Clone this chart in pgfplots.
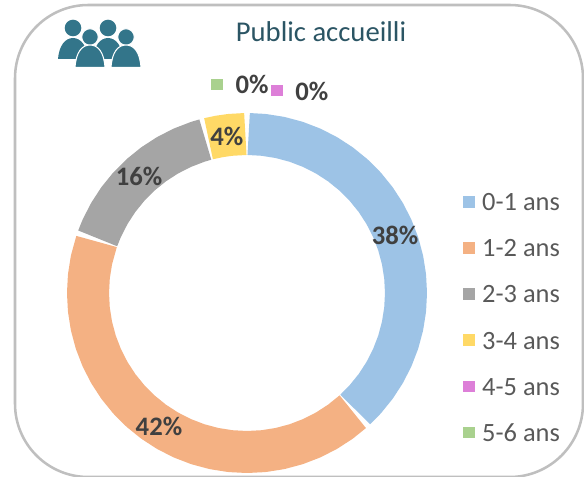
\documentclass[border=0pt]{standalone}
\usepackage{pgfplots}
\pgfplotsset{compat=1.18}
\usepgfplotslibrary{polar}
\usepackage{fontspec}
\setmainfont{Carlito}
\definecolor{cA}{HTML}{9DC3E6}
\definecolor{cB}{HTML}{F4B183}
\definecolor{cC}{HTML}{A5A5A5}
\definecolor{cD}{HTML}{FFD966}
\definecolor{cE}{HTML}{DD7FD8}
\definecolor{cF}{HTML}{A9D18E}
\definecolor{teal1}{HTML}{33758A}
\definecolor{ttl}{HTML}{2B5564}
\definecolor{lab}{HTML}{404040}
\definecolor{leg}{HTML}{595959}
\pgfplotsset{
  ring/.style={no marks, line width=31.5pt, line cap=butt, line join=round, forget plot},
  sq/.style={legend image code/.code={\fill[##1] (-4pt,-4pt) rectangle (4pt,4pt);}},
}
\tikzset{datalab/.style={font=\fontsize{20}{22}\selectfont\bfseries, text=lab, inner sep=0pt}}
\begin{document}
\begin{tikzpicture}
\begin{scope}[x=0.75pt,y=-0.75pt]
\path[use as bounding box] (0,0) rectangle (584,477);
\begin{scope}
\clip (0,0) rectangle (584,477);
\draw[line width=1.9pt, color=black!25, rounded corners=55pt] (15,5) rectangle (583,477);
\end{scope}
% icon
\fill[teal1] (73,28) circle[radius=8.3];
\fill[teal1] (108,28) circle[radius=8.3];
\fill[teal1] (58,59) .. controls (59,46) and (65,38) .. (73,38) .. controls (81,38) and (87,46) .. (88,59) -- cycle;
\fill[teal1] (93,59) .. controls (94,46) and (100,38) .. (108,38) .. controls (116,38) and (122,46) .. (123,59) -- cycle;
\filldraw[teal1,draw=white,line width=0.8pt] (90,37) circle[radius=8.3];
\filldraw[teal1,draw=white,line width=0.8pt] (126,37) circle[radius=8.3];
\filldraw[teal1,draw=white,line width=0.8pt] (75,67.5) .. controls (76,52) and (82,45) .. (90,45) .. controls (98,45) and (104,52) .. (105,67.5) -- cycle;
\filldraw[teal1,draw=white,line width=0.8pt] (111,67.5) .. controls (112,52) and (118,45) .. (126,45) .. controls (134,45) and (140,52) .. (141,67.5) -- cycle;
\node[text=ttl,font=\fontsize{21.5}{24}\selectfont] at (321,32) {Public accueilli};
\end{scope}
\begin{polaraxis}[
  at={(185.25pt,-219.75pt)}, anchor=center,
  scale only axis, width=270pt, height=270pt,
  xmin=0, xmax=360, ymin=0, ymax=180,
  hide axis, clip=false,
  legend style={draw=none, fill=none, at={(axis description cs:1.1,0.779)}, anchor=north west,
    inner sep=0pt, outer sep=0pt, font=\fontsize{19.8}{22}\selectfont, text=leg,
    row sep=21pt, column sep=6pt, nodes={inner sep=0pt, text height=13.6pt, text depth=0pt}},
  legend cell align=left,
]
\addplot[ring, cA] coordinates {(89.4,159)(84,159)(78,159)(72,159)(66,159)(60,159)(54,159)(48,159)(42,159)(36,159)(30,159)(24,159)(18,159)(12,159)(6,159)(0,159)(-6,159)(-12,159)(-18,159)(-24,159)(-30,159)(-36,159)(-42,159)(-47.1,159)};
\addplot[ring, cB] coordinates {(-48.3,159)(-54,159)(-60,159)(-66,159)(-72,159)(-78,159)(-84,159)(-90,159)(-96,159)(-102,159)(-108,159)(-114,159)(-120,159)(-126,159)(-132,159)(-138,159)(-144,159)(-150,159)(-156,159)(-162,159)(-168,159)(-174,159)(-180,159)(-186,159)(-192,159)(-198.9,159)};
\addplot[ring, cC] coordinates {(159.9,159)(156,159)(150,159)(144,159)(138,159)(132,159)(126,159)(120,159)(114,159)(108,159)(105.2,159)};
\addplot[ring, cD] coordinates {(104,159)(100,159)(96,159)(90.6,159)};
\addplot[only marks, mark=square*, mark size=4pt, cF, forget plot] coordinates {(98.2,211)};
\addplot[only marks, mark=square*, mark size=4pt, cE, forget plot] coordinates {(81.6,205)};
\node[datalab] at (axis cs:21.4,159) {38\%};
\node[datalab] at (axis cs:236.5,159.5) {42\%};
\node[datalab] at (axis cs:132.7,159) {16\%};
\node[datalab] at (axis cs:97.3,158) {4\%};
\node[datalab] at (axis cs:88.6,209) {0\%};
\node[datalab] at (axis cs:72.2,212) {0\%};
\addlegendimage{sq, cA}\addlegendentry{0-1 ans}
\addlegendimage{sq, cB}\addlegendentry{1-2 ans}
\addlegendimage{sq, cC}\addlegendentry{2-3 ans}
\addlegendimage{sq, cD}\addlegendentry{3-4 ans}
\addlegendimage{sq, cE}\addlegendentry{4-5 ans}
\addlegendimage{sq, cF}\addlegendentry{5-6 ans}
\end{polaraxis}
\end{tikzpicture}
\end{document}
